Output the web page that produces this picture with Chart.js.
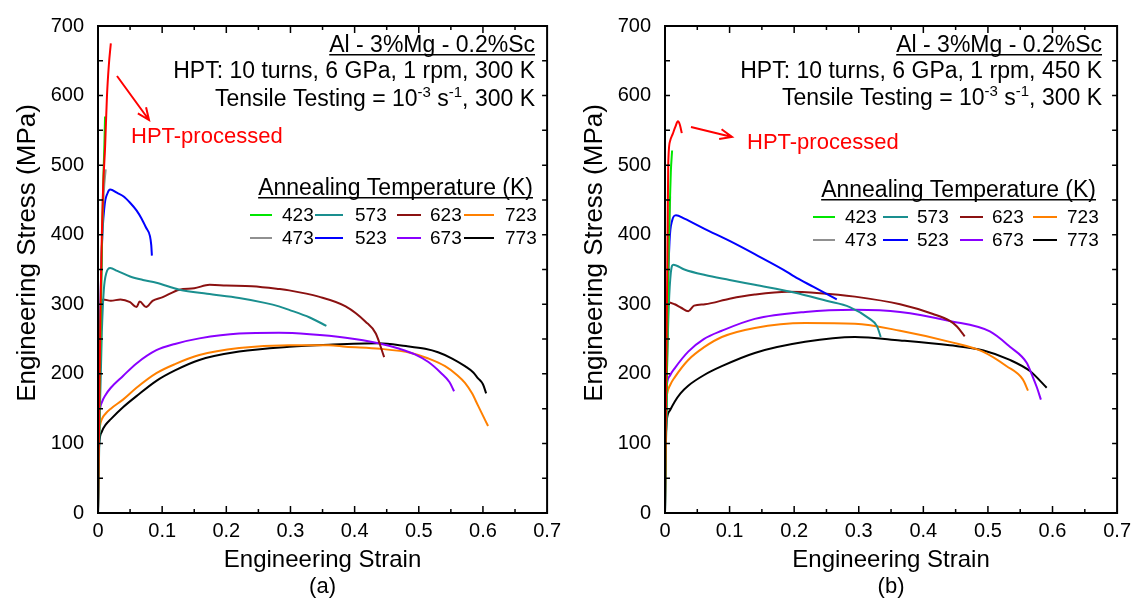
<!DOCTYPE html>
<html>
<head>
<meta charset="utf-8">
<script src="https://cdn.jsdelivr.net/npm/chart.js@4.4.1/dist/chart.umd.min.js"></script>
<style>
  body { margin: 0; background: #fff; width: 1137px; height: 603px; overflow: hidden; position: relative; }
  .panel { position: absolute; top: 0; height: 603px; }
</style>
</head>
<body>
<div class="panel" style="left:0;width:567px"><canvas id="chartA"></canvas></div>
<div class="panel" style="left:567px;width:570px"><canvas id="chartB"></canvas></div>
<script>
// ---- data: [strain, stress (MPa)] ----
// (a) HPT at 300 K
const hptA  = [[0,0],[0.002,150],[0.004,300],[0.006,400],[0.008,469],[0.011,525],[0.014,600],[0.017,645],[0.02,675]];
const a423A = [[0,0],[0.003,200],[0.006,380],[0.008,470],[0.01,530],[0.011,570]];
const a473A = [[0,0],[0.003,200],[0.006,380],[0.009,460],[0.012,494]];
const a523A = [[0,0],[0.003,250],[0.006,380],[0.01,440],[0.015,460],[0.019,465],[0.03,460],[0.04,455],[0.05,446],[0.06,435],[0.068,423],[0.075,410],[0.081,398],[0.083,385],[0.084,370]];
const a573A = [[0,0],[0.003,150],[0.006,260],[0.009,320],[0.013,345],[0.019,352],[0.03,348],[0.05,340],[0.07,335],[0.091,331],[0.127,321],[0.17,315],[0.22,309],[0.26,302],[0.282,297],[0.298,292],[0.33,281],[0.356,269]];
const a623A = [[0,0],[0.002,150],[0.004,260],[0.006,300],[0.008,307],[0.02,305],[0.035,307],[0.05,303],[0.06,296],[0.065,304],[0.075,296],[0.085,305],[0.1,310],[0.127,321],[0.15,323],[0.174,328],[0.2,327],[0.24,326],[0.282,322],[0.298,320],[0.344,311],[0.386,297],[0.417,275],[0.433,258],[0.446,224]];
const a673A = [[0,60],[0.001,120],[0.003,148],[0.006,159],[0.012,170],[0.02,180],[0.039,197],[0.06,215],[0.091,234],[0.12,243],[0.158,251],[0.22,258],[0.282,259],[0.33,257],[0.386,252],[0.437,244],[0.47,236],[0.494,228],[0.515,217],[0.535,201],[0.548,188],[0.555,175]];
const a723A = [[0,100],[0.003,125],[0.006,135],[0.012,143],[0.02,150],[0.039,163],[0.06,180],[0.091,201],[0.12,214],[0.158,227],[0.22,237],[0.298,241],[0.36,241],[0.386,239],[0.44,236],[0.488,230],[0.515,222],[0.541,211],[0.56,198],[0.572,187],[0.583,172],[0.592,155],[0.6,140],[0.608,125]];
const a773A = [[0,60],[0.002,100],[0.006,117],[0.012,127],[0.02,135],[0.039,152],[0.06,168],[0.091,190],[0.12,205],[0.158,220],[0.22,232],[0.298,239],[0.36,242],[0.437,244],[0.48,240],[0.51,236],[0.53,231],[0.552,222],[0.572,211],[0.585,202],[0.592,194],[0.6,185],[0.605,172]];

// (b) HPT at 450 K
const hptB  = [[0,0],[0.002,200],[0.004,400],[0.005,501],[0.008,535],[0.012,545],[0.016,555],[0.02,563],[0.023,558],[0.026,546]];
const a423B = [[0,0],[0.003,200],[0.005,350],[0.007,430],[0.009,490],[0.011,521]];
const a473B = [[0,0],[0.003,200],[0.005,350],[0.007,420],[0.008,455]];
const a523B = [[0,0],[0.002,150],[0.004,300],[0.007,390],[0.011,420],[0.017,428],[0.03,423],[0.062,408],[0.1,391],[0.139,372],[0.19,346],[0.2,340],[0.23,325],[0.266,307]];
const a573B = [[0,0],[0.003,200],[0.006,300],[0.009,345],[0.013,357],[0.03,350],[0.062,342],[0.1,335],[0.139,328],[0.2,317],[0.25,305],[0.286,296],[0.317,279],[0.328,269],[0.334,253]];
const a623B = [[0,70],[0.002,150],[0.004,280],[0.005,303],[0.015,300],[0.025,295],[0.036,290],[0.045,298],[0.062,300],[0.1,308],[0.139,314],[0.19,318],[0.24,316],[0.294,311],[0.364,300],[0.415,286],[0.441,276],[0.452,268],[0.464,254]];
const a673B = [[0,150],[0.003,185],[0.008,198],[0.015,208],[0.036,232],[0.06,250],[0.088,262],[0.139,279],[0.217,289],[0.294,292],[0.364,289],[0.441,276],[0.503,261],[0.534,239],[0.56,216],[0.568,199],[0.576,180],[0.582,163]];
const a723B = [[0,140],[0.003,170],[0.008,184],[0.015,195],[0.036,220],[0.06,238],[0.088,253],[0.139,266],[0.217,273],[0.294,272],[0.364,262],[0.441,246],[0.492,232],[0.529,211],[0.554,192],[0.562,176]];
const a773B = [[0,90],[0.003,135],[0.008,148],[0.015,160],[0.024,172],[0.036,183],[0.06,198],[0.088,211],[0.139,230],[0.217,246],[0.294,253],[0.364,248],[0.441,241],[0.492,234],[0.534,220],[0.565,204],[0.591,180]];

// legend order (two rows of four)
const legendRow1 = ['423', '573', '623', '723'];
const legendRow2 = ['473', '523', '673', '773'];

const colors = {
  HPT: '#ff0000', '423': '#00e600', '473': '#909090', '523': '#0000ff', '573': '#1a8f8f',
  '623': '#8b1111', '673': '#8a00ff', '723': '#ff8000', '773': '#000000'
};

const FONT = "'Liberation Sans', Arial, sans-serif";

function toXY(arr) { return arr.map(p => ({ x: p[0], y: p[1] })); }

function drawRuns(ctx, runs, xRight, base) {
  let w = 0;
  runs.forEach(r => { ctx.font = (r.sup ? 15 : 23) + 'px ' + FONT; r.w = ctx.measureText(r.t).width; w += r.w; });
  let x = xRight - w;
  ctx.textAlign = 'left';
  ctx.textBaseline = 'alphabetic';
  runs.forEach(r => {
    ctx.font = (r.sup ? 15 : 23) + 'px ' + FONT;
    ctx.fillText(r.t, x, r.sup ? base - 9 : base);
    x += r.w;
  });
}

function underlined(ctx, text, xRight, base) {
  ctx.font = '23px ' + FONT;
  ctx.textAlign = 'right';
  ctx.textBaseline = 'alphabetic';
  ctx.fillText(text, xRight, base);
  const w = ctx.measureText(text).width;
  ctx.fillRect(xRight - w, base + 2, w, 1.5);
}

const decor = {
  id: 'decor',
  afterDraw(chart, args, o) {
    const ctx = chart.ctx;
    const a = chart.chartArea;
    const xs = chart.scales.x, ys = chart.scales.y;
    ctx.save();
    ctx.strokeStyle = '#000';
    ctx.fillStyle = '#000';
    // inward ticks on all four sides
    ctx.lineWidth = 1.5;
    ctx.beginPath();
    for (let i = 1; i < 14; i++) {
      const px = xs.getPixelForValue(i * 0.05);
      const len = i % 2 === 0 ? 7 : 4;
      ctx.moveTo(px, a.bottom); ctx.lineTo(px, a.bottom - len);
      ctx.moveTo(px, a.top); ctx.lineTo(px, a.top + len);
      const py = ys.getPixelForValue(i * 50);
      ctx.moveTo(a.left, py); ctx.lineTo(a.left + 5, py);
      ctx.moveTo(a.right, py); ctx.lineTo(a.right - 5, py);
    }
    ctx.stroke();
    // frame
    ctx.lineWidth = 2;
    ctx.strokeRect(a.left, a.top, a.right - a.left, a.bottom - a.top);

    // axis titles
    ctx.font = '26px ' + FONT;
    ctx.textAlign = 'center';
    ctx.textBaseline = 'middle';
    ctx.save();
    ctx.translate(28, 253);
    ctx.rotate(-Math.PI / 2);
    ctx.fillText('Engineering Stress (MPa)', 0, 0);
    ctx.restore();
    ctx.font = '24px ' + FONT;
    ctx.textBaseline = 'alphabetic';
    const cx = (a.left + a.right) / 2;
    ctx.fillText('Engineering Strain', cx, 567);
    ctx.font = '22px ' + FONT;
    ctx.fillText(o.tag, cx, 593);

    // annotation block
    underlined(ctx, 'Al - 3%Mg - 0.2%Sc', o.textRight, o.lines[0]);
    drawRuns(ctx, [{ t: o.hpt }], o.textRight, o.lines[1]);
    drawRuns(ctx, [{ t: 'Tensile Testing = 10' }, { t: '-3', sup: true }, { t: ' s' }, { t: '-1', sup: true }, { t: ', 300 K' }], o.textRight, o.lines[2]);
    underlined(ctx, 'Annealing Temperature (K)', o.annealRight, o.annealBase);

    // legend
    ctx.font = '19px ' + FONT;
    ctx.textAlign = 'left';
    ctx.textBaseline = 'middle';
    [legendRow1, legendRow2].forEach((row, r) => {
      row.forEach((t, c) => {
        const y = o.rows[r];
        ctx.strokeStyle = colors[t];
        ctx.lineWidth = 2;
        ctx.beginPath();
        ctx.moveTo(o.lineCols[c][0], y); ctx.lineTo(o.lineCols[c][1], y);
        ctx.stroke();
        ctx.fillStyle = '#000';
        ctx.fillText(t, o.textCols[c], y + 1);
      });
    });

    // HPT-processed label and arrow
    ctx.fillStyle = '#ff0000';
    ctx.strokeStyle = '#ff0000';
    ctx.font = '22px ' + FONT;
    ctx.textBaseline = 'alphabetic';
    ctx.fillText('HPT-processed', o.hptLabel[0], o.hptLabel[1]);
    const [x1, y1, x2, y2] = o.arrow;
    const ang = Math.atan2(y2 - y1, x2 - x1);
    ctx.lineWidth = 2;
    ctx.beginPath();
    ctx.moveTo(x1, y1); ctx.lineTo(x2, y2);
    ctx.moveTo(x2 - 13 * Math.cos(ang - 0.4), y2 - 13 * Math.sin(ang - 0.4));
    ctx.lineTo(x2, y2);
    ctx.lineTo(x2 - 13 * Math.cos(ang + 0.4), y2 - 13 * Math.sin(ang + 0.4));
    ctx.stroke();
    ctx.restore();
  }
};

function buildPanel(id, series, padRight, deco) {
  const datasets = series.map(s => ({
    label: s.label,
    data: toXY(s.data),
    borderColor: colors[s.label],
    borderWidth: 2,
    pointRadius: 0,
    showLine: true,
    fill: false,
    cubicInterpolationMode: 'monotone'
  }));
  return new Chart(document.getElementById(id), {
    type: 'scatter',
    data: { datasets },
    plugins: [decor],
    options: {
      responsive: true,
      maintainAspectRatio: false,
      animation: false,
      layout: { padding: { top: 16, right: padRight, left: 0, bottom: 0 } },
      plugins: { legend: { display: false }, tooltip: { enabled: false }, decor: deco },
      scales: {
        x: {
          type: 'linear', min: 0, max: 0.7,
          afterFit(s) { s.height = 90; },
          grid: { display: false, drawTicks: false },
          border: { display: false },
          ticks: {
            stepSize: 0.1, padding: 6, color: '#000',
            font: { family: FONT, size: 20 },
            callback: v => (Math.abs(v) < 1e-9 ? '0' : v.toFixed(1))
          }
        },
        y: {
          min: 0, max: 700,
          afterFit(s) { s.width = 98; },
          grid: { display: false, drawTicks: false },
          border: { display: false },
          ticks: { stepSize: 100, padding: 14, color: '#000', font: { family: FONT, size: 20 } }
        }
      }
    }
  });
}

buildPanel('chartA', [
  { label: 'HPT', data: hptA }, { label: '423', data: a423A }, { label: '473', data: a473A },
  { label: '523', data: a523A }, { label: '573', data: a573A }, { label: '623', data: a623A },
  { label: '673', data: a673A }, { label: '723', data: a723A }, { label: '773', data: a773A }
], 18, {
  tag: '(a)', hpt: 'HPT: 10 turns, 6 GPa, 1 rpm, 300 K',
  textRight: 535, lines: [52, 78, 106], annealRight: 533, annealBase: 195,
  rows: [215, 238], lineCols: [[250, 272], [315, 343], [397, 421], [464, 494]], textCols: [282, 355, 430, 505],
  hptLabel: [131, 143], arrow: [117, 76, 149, 120]
});

buildPanel('chartB', [
  { label: 'HPT', data: hptB }, { label: '423', data: a423B }, { label: '473', data: a473B },
  { label: '523', data: a523B }, { label: '573', data: a573B }, { label: '623', data: a623B },
  { label: '673', data: a673B }, { label: '723', data: a723B }, { label: '773', data: a773B }
], 19, {
  tag: '(b)', hpt: 'HPT: 10 turns, 6 GPa, 1 rpm, 450 K',
  textRight: 535, lines: [52, 78, 105], annealRight: 529, annealBase: 197,
  rows: [217, 240], lineCols: [[246, 268], [316, 341], [393, 416], [466, 490]], textCols: [278, 350, 425, 500],
  hptLabel: [180, 149], arrow: [124, 127, 165, 137]
});
</script>
</body>
</html>
